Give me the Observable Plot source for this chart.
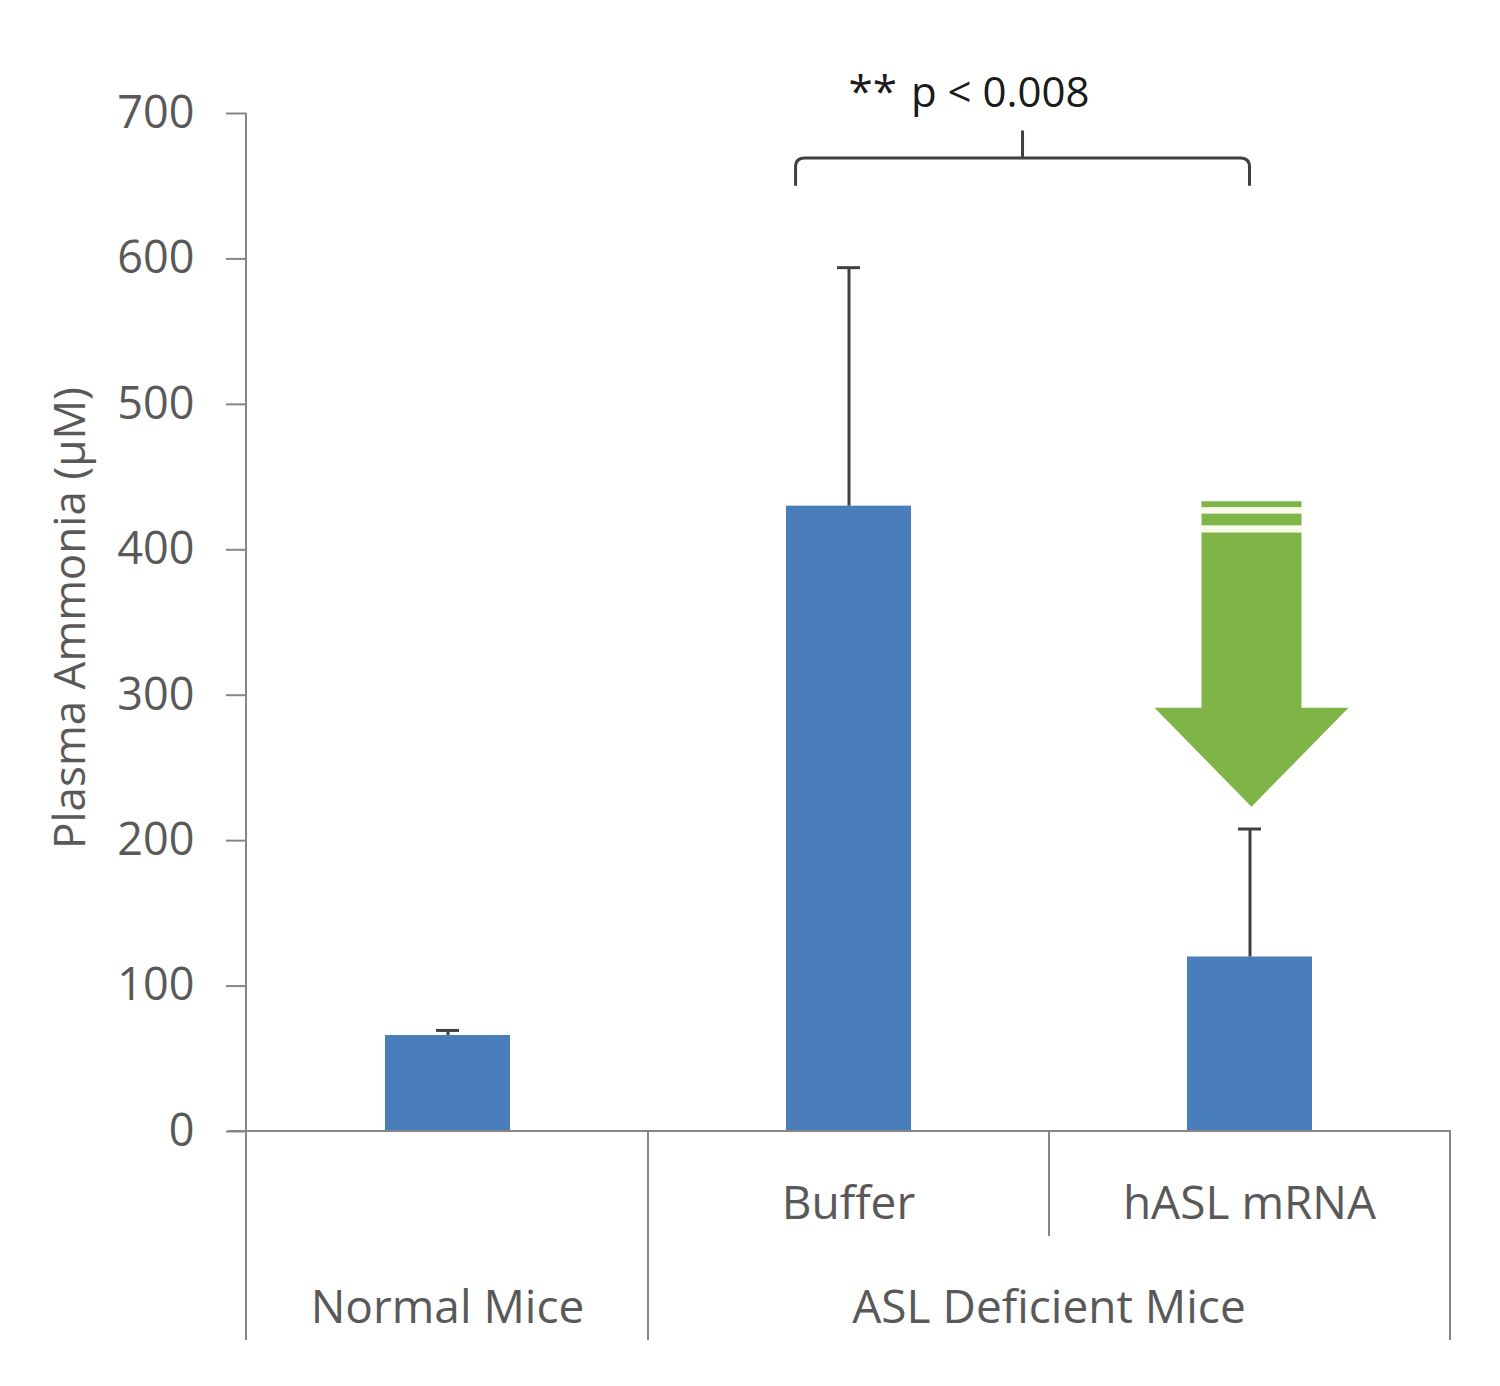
<!DOCTYPE html>
<html><head><meta charset="utf-8">
<script src="https://cdn.jsdelivr.net/npm/d3@7"></script>
<script src="https://cdn.jsdelivr.net/npm/@observablehq/plot@0.6"></script>
<style>body{margin:0;background:#fff}</style>
</head><body><div id="chart"></div>
<script>
// ---- data ----
const categories = ["Normal Mice", "Buffer", "hASL mRNA"];
const subLabels = ["", "Buffer", "hASL mRNA"];
const groups = ["Normal Mice", "ASL Deficient Mice", "ASL Deficient Mice"];
const means = [66, 430, 120];
const errors = [3.5, 164, 88];
const yTicks = [0, 100, 200, 300, 400, 500, 600, 700];
const yLabel = "Plasma Ammonia (µM)";
const sigStars = "**";
const sigText = "p < 0.008";
const bracketCats = ["Buffer", "hASL mRNA"];
const bracketY = [669, 650, 688];        // line level, end level, central tick top
const arrowCat = "hASL mRNA";
const arrowY = [433, 291, 223];          // top, head base, tip
const arrowGaps = [[429, 424.5], [416.5, 411.5]];

const data = categories.map((c, i) => ({cat: c, mean: means[i], err: errors[i]}));

const GRAY = "#868686", TEXT = "#595959", FONT = "Open Sans";

function bandInfo(scales) {
  const x = scales.x;
  const bw = typeof x.bandwidth === "function" ? x.bandwidth()
    : (scales.scales && scales.scales.x && scales.scales.x.bandwidth) || (x(categories[1]) - x(categories[0]));
  return {x, bw};
}

function arrowMark(index, scales, values, dims) {
  const {x, bw} = bandInfo(scales);
  const y = scales.y;
  const cx = x(arrowCat) + bw / 2 + 2;
  const shaftHalf = 50, headHalf = 97;
  const g = d3.create("svg:g");
  const [top, base, tip] = arrowY.map(y);
  g.append("path")
    .attr("d", `M${cx - shaftHalf},${top}L${cx + shaftHalf},${top}L${cx + shaftHalf},${base}L${cx + headHalf},${base}L${cx},${tip}L${cx - headHalf},${base}L${cx - shaftHalf},${base}Z`)
    .attr("fill", "#7fb446");
  for (const [a, b] of arrowGaps) {
    g.append("rect").attr("x", cx - shaftHalf - 1).attr("width", 2 * shaftHalf + 2)
      .attr("y", y(a)).attr("height", y(b) - y(a)).attr("fill", "#f8faea");
  }
  return g.node();
}

function annotationMark(index, scales, values, dims) {
  const {x, bw} = bandInfo(scales);
  const y = scales.y;
  const xL = x(bracketCats[0]) + bw * 0.368;
  const xR = x(bracketCats[1]) + bw / 2;
  const xm = (xL + xR) / 2;
  const [yl, ye, yt] = bracketY.map(y);
  const g = d3.create("svg:g");
  g.append("path")
    .attr("d", `M${xL},${ye}L${xL},${yl + 9}Q${xL},${yl} ${xL + 9},${yl}L${xR - 9},${yl}Q${xR},${yl} ${xR},${yl + 9}L${xR},${ye}M${xm},${yl}L${xm},${yt}`)
    .attr("fill", "none").attr("stroke", "#404040").attr("stroke-width", 3);
  const t = g.append("text")
    .attr("x", x(bracketCats[0]) + bw / 2)
    .attr("y", y(704))
    .attr("text-anchor", "start")
    .attr("font-family", FONT).attr("font-size", 42).attr("fill", "#1a1a1a");
  t.append("tspan").attr("font-size", 44).text(sigStars);
  t.append("tspan").attr("dx", 14).text(sigText);
  return g.node();
}

function axesMark(index, scales, values, dims) {
  const {x, bw} = bandInfo(scales);
  const y = scales.y;
  const {marginLeft, marginRight, width, height} = dims;
  const y0 = y(0);
  const bottom = height - 46;
  const mid = y0 + 105;
  const g = d3.create("svg:g").attr("stroke", GRAY).attr("stroke-width", 2);
  // y axis line (extends into category area)
  g.append("line").attr("x1", marginLeft).attr("x2", marginLeft).attr("y1", y(700)).attr("y2", bottom);
  // baseline
  g.append("line").attr("x1", marginLeft - 18).attr("x2", width - marginRight).attr("y1", y0).attr("y2", y0);
  // separators
  categories.forEach((c, i) => {
    if (i === 0) return;
    const xs = x(c);
    const full = groups[i] !== groups[i - 1];
    g.append("line").attr("x1", xs).attr("x2", xs).attr("y1", y0).attr("y2", full ? bottom : mid);
  });
  const xEnd = x(categories[categories.length - 1]) + bw;
  g.append("line").attr("x1", xEnd).attr("x2", xEnd).attr("y1", y0).attr("y2", bottom);
  // sub labels
  const txt = d3.create("svg:g").attr("font-family", FONT).attr("fill", TEXT).attr("text-anchor", "middle");
  categories.forEach((c, i) => {
    if (!subLabels[i]) return;
    txt.append("text").attr("x", x(c) + bw / 2).attr("y", y0 + 72).attr("dy", "0.35em")
      .attr("font-size", 46).text(subLabels[i]);
  });
  // group labels
  const uniq = [...new Set(groups)];
  for (const gname of uniq) {
    const idx = groups.map((d, i) => d === gname ? i : -1).filter(i => i >= 0);
    const s = x(categories[idx[0]]), e = x(categories[idx[idx.length - 1]]) + bw;
    txt.append("text").attr("x", (s + e) / 2).attr("y", y0 + 176).attr("dy", "0.35em")
      .attr("font-size", 46).text(gname);
  }
  // y label
  txt.append("text").attr("transform", `translate(70,${y(350) - 4}) rotate(-90)`).attr("dy", "0.35em")
    .attr("font-size", 44).text(yLabel);
  const root = d3.create("svg:g");
  root.node().appendChild(g.node());
  root.node().appendChild(txt.node());
  return root.node();
}

const chart = Plot.plot({
  width: 1500,
  height: 1386,
  marginLeft: 246,
  marginRight: 49,
  marginTop: 113,
  marginBottom: 255,
  style: {fontFamily: FONT, background: "#fff"},
  x: {type: "band", domain: categories, padding: 0, axis: null},
  y: {domain: [0, 700], axis: null},
  marks: [
    Plot.barY(data, {x: "cat", y: "mean", fill: "#4a7ebb", insetLeft: 138, insetRight: 138}),
    Plot.ruleX(data, {x: "cat", y1: "mean", y2: d => d.mean + d.err, stroke: "#404040", strokeWidth: 3}),
    Plot.tickY(data, {x: "cat", y: d => d.mean + d.err, stroke: "#404040", strokeWidth: 3, insetLeft: 189, insetRight: 189}),
    Plot.axisY({ticks: yTicks, tickSize: 20, tickPadding: 32, stroke: GRAY, strokeWidth: 2, fill: TEXT, fontSize: 45, label: null}),
    axesMark,
    arrowMark,
    annotationMark
  ]
});
document.getElementById("chart").appendChild(chart);
</script>
</body></html>
